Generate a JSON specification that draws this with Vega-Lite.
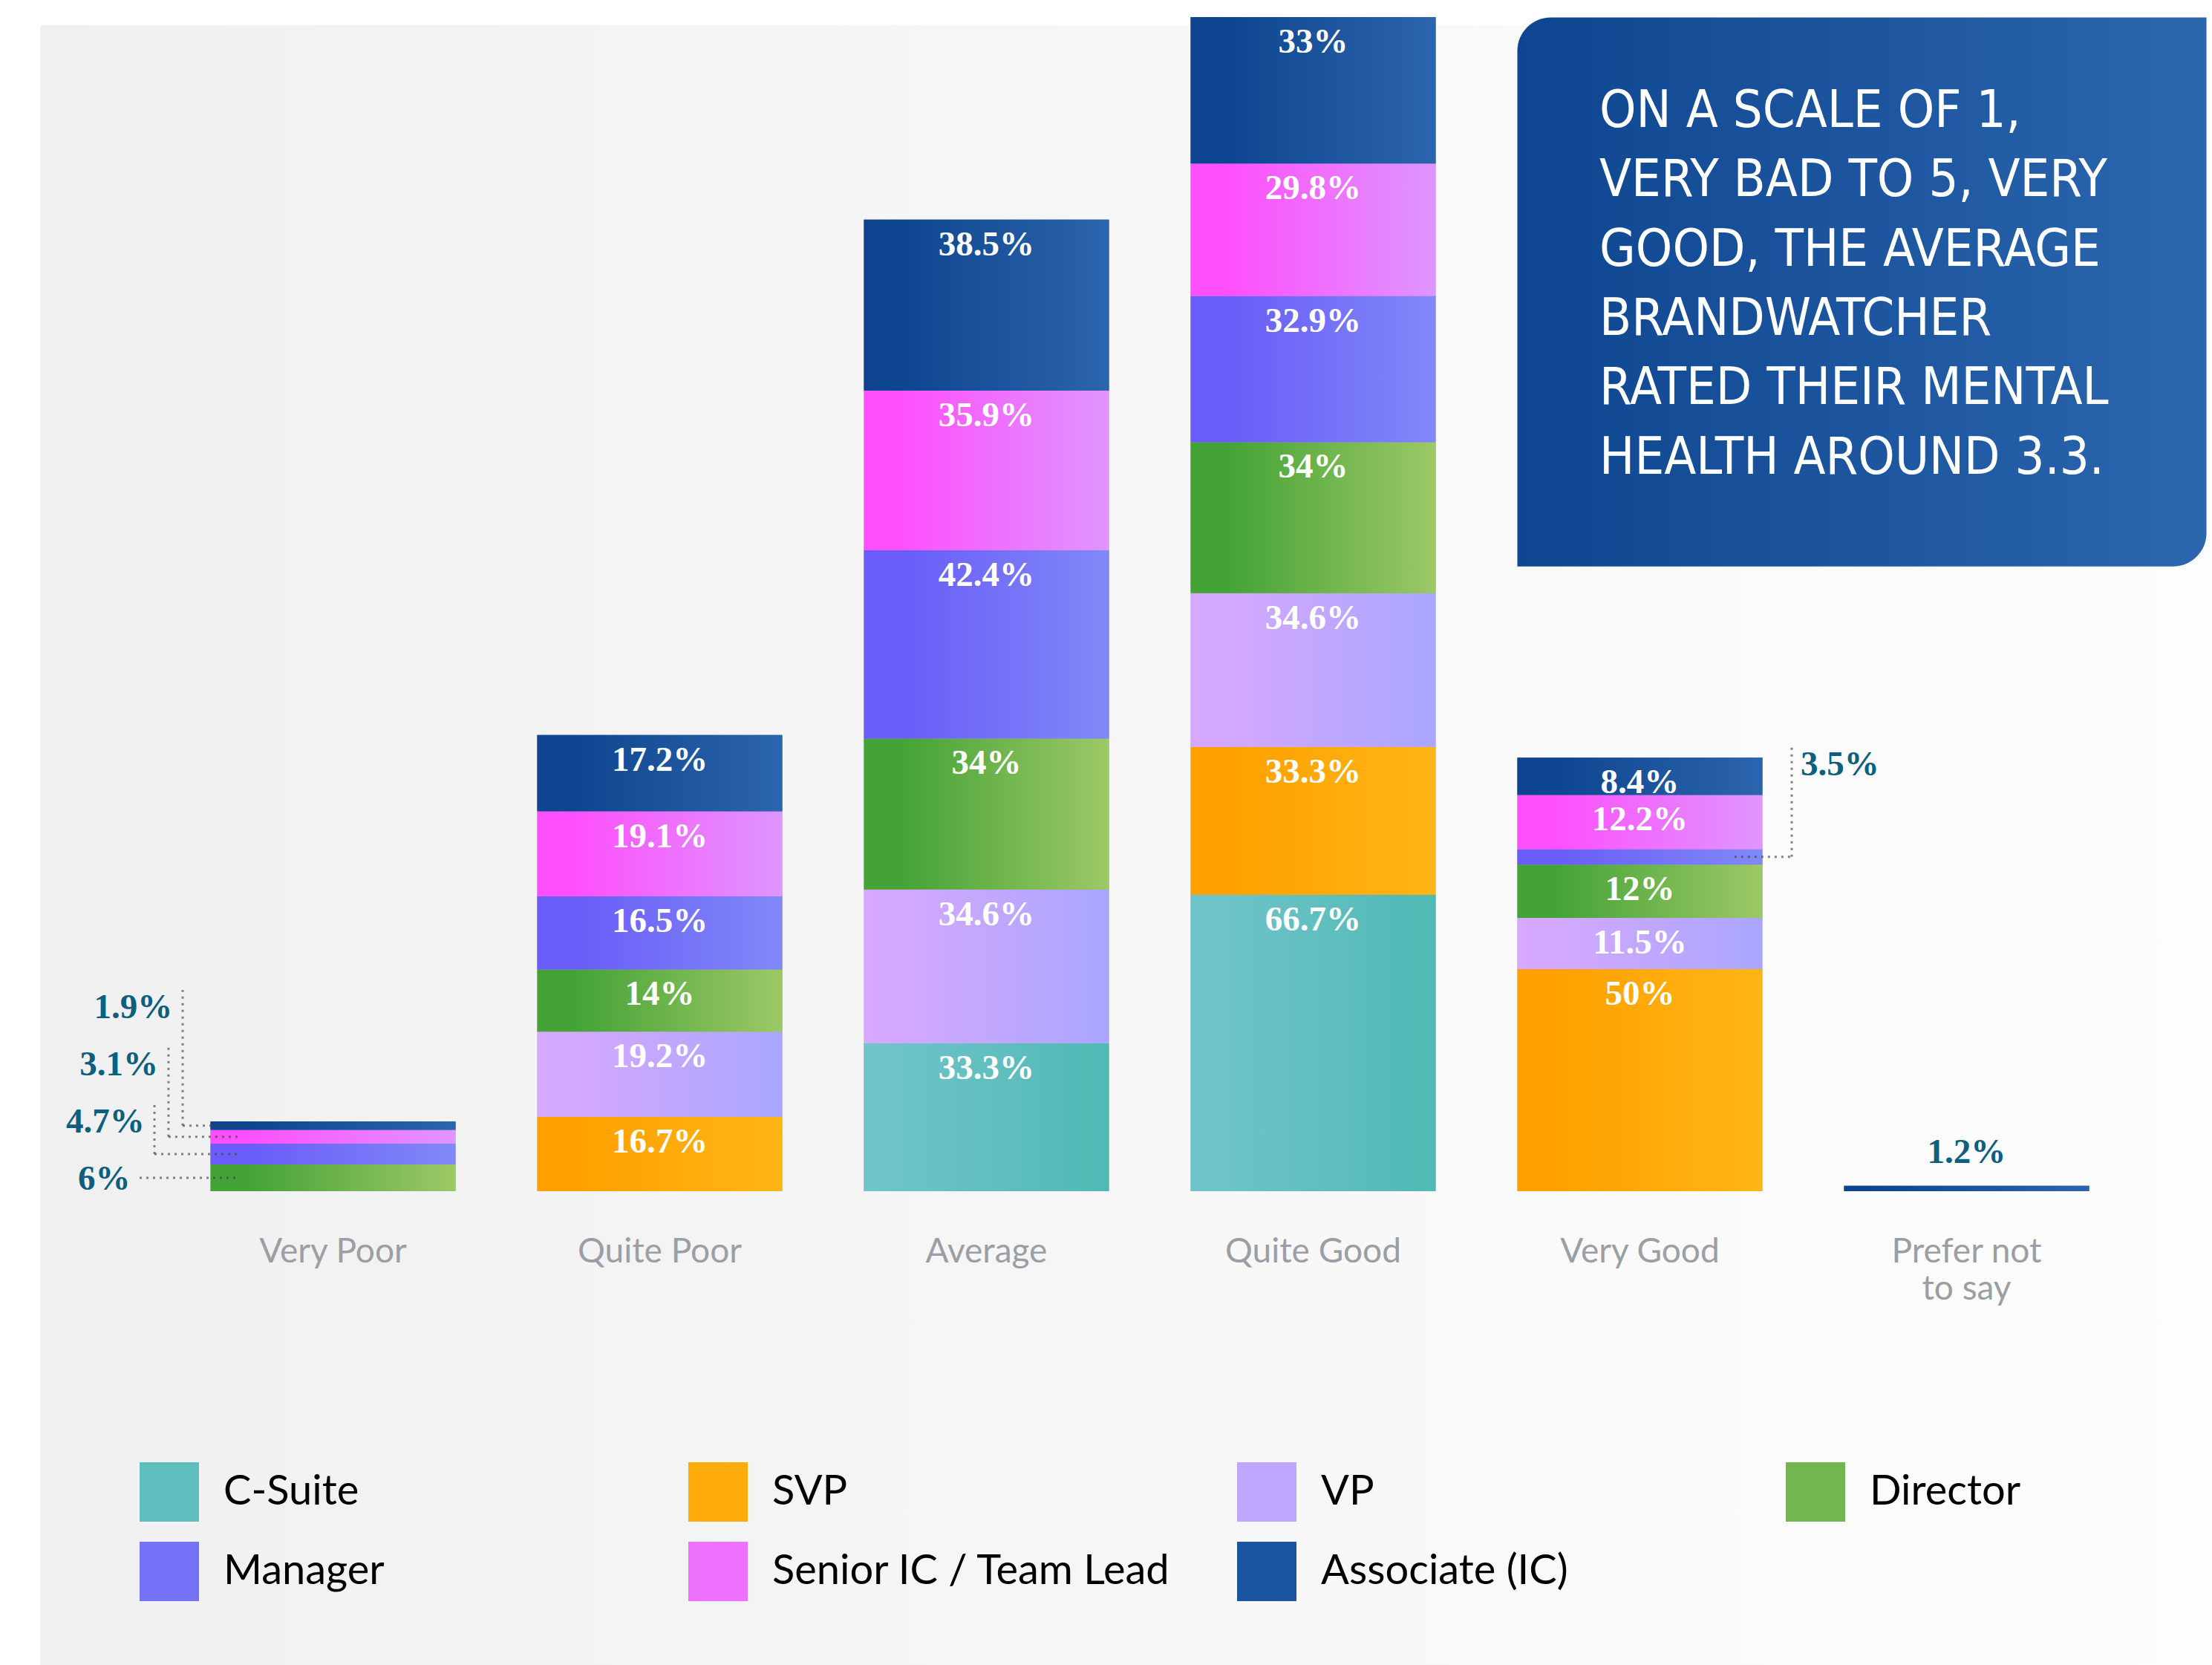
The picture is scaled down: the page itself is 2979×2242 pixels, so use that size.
{
  "$schema": "https://vega.github.io/schema/vega-lite/v6.json",
  "width": 2925,
  "height": 2208,
  "autosize": {"type": "none"},
  "padding": {"left": 54, "top": 34, "right": 0, "bottom": 0},
  "background": "#ffffff",
  "config": {
    "view": {"fill": {"gradient": "linear", "stops": [{"offset": 0, "color": "#f0f0f0"}, {"offset": 1, "color": "#fdfdfd"}]}, "stroke": null}
  },
  "data": {"values": [
    {"rating": "Very Poor", "role": "Director", "share": 0.06},
    {"rating": "Very Poor", "role": "Manager", "share": 0.047},
    {"rating": "Very Poor", "role": "Senior IC / Team Lead", "share": 0.031},
    {"rating": "Very Poor", "role": "Associate (IC)", "share": 0.019},
    {"rating": "Quite Poor", "role": "SVP", "share": 0.167},
    {"rating": "Quite Poor", "role": "VP", "share": 0.192},
    {"rating": "Quite Poor", "role": "Director", "share": 0.14},
    {"rating": "Quite Poor", "role": "Manager", "share": 0.165},
    {"rating": "Quite Poor", "role": "Senior IC / Team Lead", "share": 0.191},
    {"rating": "Quite Poor", "role": "Associate (IC)", "share": 0.172},
    {"rating": "Average", "role": "C-Suite", "share": 0.333},
    {"rating": "Average", "role": "VP", "share": 0.346},
    {"rating": "Average", "role": "Director", "share": 0.34},
    {"rating": "Average", "role": "Manager", "share": 0.424},
    {"rating": "Average", "role": "Senior IC / Team Lead", "share": 0.359},
    {"rating": "Average", "role": "Associate (IC)", "share": 0.385},
    {"rating": "Quite Good", "role": "C-Suite", "share": 0.667},
    {"rating": "Quite Good", "role": "SVP", "share": 0.333},
    {"rating": "Quite Good", "role": "VP", "share": 0.346},
    {"rating": "Quite Good", "role": "Director", "share": 0.34},
    {"rating": "Quite Good", "role": "Manager", "share": 0.329},
    {"rating": "Quite Good", "role": "Senior IC / Team Lead", "share": 0.298},
    {"rating": "Quite Good", "role": "Associate (IC)", "share": 0.33},
    {"rating": "Very Good", "role": "SVP", "share": 0.5},
    {"rating": "Very Good", "role": "VP", "share": 0.115},
    {"rating": "Very Good", "role": "Director", "share": 0.12},
    {"rating": "Very Good", "role": "Manager", "share": 0.035},
    {"rating": "Very Good", "role": "Senior IC / Team Lead", "share": 0.122},
    {"rating": "Very Good", "role": "Associate (IC)", "share": 0.084},
    {"rating": "Prefer not to say", "role": "Associate (IC)", "share": 0.012}
  ]},
  "transform": [{"stack": "share", "groupby": ["rating"], "as": ["y0", "y1"]}],
  "layer": [
    {
      "mark": {"type": "bar", "strokeWidth": 0},
      "encoding": {
        "x": {
          "field": "rating", "type": "nominal",
          "scale": {"domain": ["Very Poor", "Quite Poor", "Average", "Quite Good", "Very Good", "Prefer not to say"], "paddingInner": 0.25, "paddingOuter": 0.4489, "align": 0.581},
          "axis": {"title": null, "domain": false, "ticks": false, "grid": false, "labelAngle": 0, "labelFont": "Lato", "labelFontSize": 46, "labelColor": "#9a9fa5", "labelPadding": 95, "labelBaseline": "alphabetic", "labelLineHeight": 50, "offset": -638, "labelLimit": 0, "labelExpr": "datum.label == 'Prefer not to say' ? ['Prefer not', 'to say'] : datum.label"}
        },
        "y": {"field": "y0", "type": "quantitative", "scale": {"domain": [-1.0665, 2.6245], "nice": false, "zero": false}, "axis": null},
        "y2": {"field": "y1"},
        "color": {
          "field": "role", "type": "nominal",
          "scale": {
            "domain": ["C-Suite", "SVP", "VP", "Director", "Manager", "Senior IC / Team Lead", "Associate (IC)"],
            "range": ["#5fbfbf", "#ffab0c", "#bfa7ff", "#71b64e", "#7572f8", "#ee72fd", "#1c559f"]
          },
          "legend": {"title": null, "orient": "none", "legendX": 134, "legendY": 1935, "direction": "horizontal", "columns": 4, "symbolType": "square", "symbolSize": 6400, "symbolStrokeWidth": 0, "symbolOpacity": 1, "labelFont": "Lato", "labelFontSize": 56, "labelColor": "#000000", "labelOffset": 33, "columnPadding": 88, "rowPadding": 27, "gridAlign": "all", "labelLimit": 0, "padding": 0}
        }
      }
    },
    {"transform": [{"filter": "datum.role === 'C-Suite'"}],
     "mark": {"type": "bar", "strokeWidth": 0, "fill": {"gradient": "linear", "stops": [{"offset": 0, "color": "#6fc4c9"}, {"offset": 0.15, "color": "#6dc3c8"}, {"offset": 1, "color": "#50b9b4"}]}},
     "encoding": {"x": {"field": "rating", "type": "nominal"}, "y": {"field": "y0", "type": "quantitative", "axis": null}, "y2": {"field": "y1"}}},
    {"transform": [{"filter": "datum.role === 'SVP'"}],
     "mark": {"type": "bar", "strokeWidth": 0, "fill": {"gradient": "linear", "stops": [{"offset": 0, "color": "#ffa000"}, {"offset": 0.15, "color": "#ffa000"}, {"offset": 1, "color": "#ffb517"}]}},
     "encoding": {"x": {"field": "rating", "type": "nominal"}, "y": {"field": "y0", "type": "quantitative", "axis": null}, "y2": {"field": "y1"}}},
    {"transform": [{"filter": "datum.role === 'VP'"}],
     "mark": {"type": "bar", "strokeWidth": 0, "fill": {"gradient": "linear", "stops": [{"offset": 0, "color": "#d6a8ff"}, {"offset": 0.15, "color": "#d4a8ff"}, {"offset": 1, "color": "#a9a6ff"}]}},
     "encoding": {"x": {"field": "rating", "type": "nominal"}, "y": {"field": "y0", "type": "quantitative", "axis": null}, "y2": {"field": "y1"}}},
    {"transform": [{"filter": "datum.role === 'Director'"}],
     "mark": {"type": "bar", "strokeWidth": 0, "fill": {"gradient": "linear", "stops": [{"offset": 0, "color": "#44a336"}, {"offset": 0.15, "color": "#44a336"}, {"offset": 1, "color": "#9dc866"}]}},
     "encoding": {"x": {"field": "rating", "type": "nominal"}, "y": {"field": "y0", "type": "quantitative", "axis": null}, "y2": {"field": "y1"}}},
    {"transform": [{"filter": "datum.role === 'Manager'"}],
     "mark": {"type": "bar", "strokeWidth": 0, "fill": {"gradient": "linear", "stops": [{"offset": 0, "color": "#695cf8"}, {"offset": 0.15, "color": "#695cf8"}, {"offset": 1, "color": "#8189f8"}]}},
     "encoding": {"x": {"field": "rating", "type": "nominal"}, "y": {"field": "y0", "type": "quantitative", "axis": null}, "y2": {"field": "y1"}}},
    {"transform": [{"filter": "datum.role === 'Senior IC / Team Lead'"}],
     "mark": {"type": "bar", "strokeWidth": 0, "fill": {"gradient": "linear", "stops": [{"offset": 0, "color": "#fd4ffc"}, {"offset": 0.15, "color": "#fd4ffc"}, {"offset": 1, "color": "#de96ff"}]}},
     "encoding": {"x": {"field": "rating", "type": "nominal"}, "y": {"field": "y0", "type": "quantitative", "axis": null}, "y2": {"field": "y1"}}},
    {"transform": [{"filter": "datum.role === 'Associate (IC)'"}],
     "mark": {"type": "bar", "strokeWidth": 0, "fill": {"gradient": "linear", "stops": [{"offset": 0, "color": "#0d438f"}, {"offset": 0.15, "color": "#0e4590"}, {"offset": 1, "color": "#2b65ad"}]}},
     "encoding": {"x": {"field": "rating", "type": "nominal"}, "y": {"field": "y0", "type": "quantitative", "axis": null}, "y2": {"field": "y1"}}},
    {
      "transform": [{"filter": "datum.share >= 0.08"}],
      "mark": {"type": "text", "font": "Liberation Serif", "fontWeight": "bold", "fontSize": 47, "color": "#ffffff", "baseline": "alphabetic", "align": "center", "dy": 48},
      "encoding": {
        "x": {"field": "rating", "type": "nominal"},
        "y": {"field": "y1", "type": "quantitative", "axis": null},
        "text": {"field": "share", "type": "quantitative", "format": ".1~%"}
      }
    },
    {
      "transform": [{"filter": "datum.rating === 'Prefer not to say'"}],
      "mark": {"type": "text", "font": "Liberation Serif", "fontWeight": "bold", "fontSize": 47, "color": "#0c5f7f", "baseline": "alphabetic", "align": "center", "dy": -31},
      "encoding": {
        "x": {"field": "rating", "type": "nominal"},
        "y": {"field": "y1", "type": "quantitative", "axis": null},
        "text": {"field": "share", "type": "quantitative", "format": ".1~%"}
      }
    },
    {
      "transform": [
        {"filter": "datum.rating === 'Very Poor' && datum.role === 'Associate (IC)'"},
        {"fold": ["y0", "y1"], "as": ["edge", "edgeValue"]},
        {"aggregate": [{"op": "mean", "field": "edgeValue", "as": "mid"}, {"op": "max", "field": "share", "as": "share"}], "groupby": ["rating", "role"]}
      ],
      "layer": [
        {"mark": {"type": "rule", "color": "#444444", "opacity": 0.65, "strokeWidth": 3, "strokeDash": [3, 6], "y2Offset": -182.8},
         "encoding": {"x": {"field": "rating", "type": "nominal", "bandPosition": -0.1136}, "y": {"field": "mid", "type": "quantitative", "axis": null}, "y2": {"field": "mid"}}},
        {"mark": {"type": "rule", "color": "#444444", "opacity": 0.65, "strokeWidth": 3, "strokeDash": [3, 6]},
         "encoding": {"x": {"field": "rating", "type": "nominal", "bandPosition": -0.1136}, "x2": {"field": "rating", "bandPosition": 0.1182}, "y": {"field": "mid", "type": "quantitative", "axis": null}}},
        {"mark": {"type": "text", "font": "Liberation Serif", "fontWeight": "bold", "fontSize": 47, "color": "#0c5f7f", "baseline": "alphabetic", "align": "right", "dy": -145.1},
         "encoding": {"x": {"field": "rating", "type": "nominal", "bandPosition": -0.1555}, "y": {"field": "mid", "type": "quantitative", "axis": null}, "text": {"field": "share", "type": "quantitative", "format": ".1~%"}}}
      ]
    },
    {
      "transform": [
        {"filter": "datum.rating === 'Very Poor' && datum.role === 'Senior IC / Team Lead'"},
        {"fold": ["y0", "y1"], "as": ["edge", "edgeValue"]},
        {"aggregate": [{"op": "mean", "field": "edgeValue", "as": "mid"}, {"op": "max", "field": "share", "as": "share"}], "groupby": ["rating", "role"]}
      ],
      "layer": [
        {"mark": {"type": "rule", "color": "#444444", "opacity": 0.65, "strokeWidth": 3, "strokeDash": [3, 6], "y2Offset": -120.7},
         "encoding": {"x": {"field": "rating", "type": "nominal", "bandPosition": -0.1715}, "y": {"field": "mid", "type": "quantitative", "axis": null}, "y2": {"field": "mid"}}},
        {"mark": {"type": "rule", "color": "#444444", "opacity": 0.65, "strokeWidth": 3, "strokeDash": [3, 6]},
         "encoding": {"x": {"field": "rating", "type": "nominal", "bandPosition": -0.1715}, "x2": {"field": "rating", "bandPosition": 0.1182}, "y": {"field": "mid", "type": "quantitative", "axis": null}}},
        {"mark": {"type": "text", "font": "Liberation Serif", "fontWeight": "bold", "fontSize": 47, "color": "#0c5f7f", "baseline": "alphabetic", "align": "right", "dy": -83},
         "encoding": {"x": {"field": "rating", "type": "nominal", "bandPosition": -0.2136}, "y": {"field": "mid", "type": "quantitative", "axis": null}, "text": {"field": "share", "type": "quantitative", "format": ".1~%"}}}
      ]
    },
    {
      "transform": [
        {"filter": "datum.rating === 'Very Poor' && datum.role === 'Manager'"},
        {"fold": ["y0", "y1"], "as": ["edge", "edgeValue"]},
        {"aggregate": [{"op": "mean", "field": "edgeValue", "as": "mid"}, {"op": "max", "field": "share", "as": "share"}], "groupby": ["rating", "role"]}
      ],
      "layer": [
        {"mark": {"type": "rule", "color": "#444444", "opacity": 0.65, "strokeWidth": 3, "strokeDash": [3, 6], "y2Offset": -66},
         "encoding": {"x": {"field": "rating", "type": "nominal", "bandPosition": -0.2288}, "y": {"field": "mid", "type": "quantitative", "axis": null}, "y2": {"field": "mid"}}},
        {"mark": {"type": "rule", "color": "#444444", "opacity": 0.65, "strokeWidth": 3, "strokeDash": [3, 6]},
         "encoding": {"x": {"field": "rating", "type": "nominal", "bandPosition": -0.2288}, "x2": {"field": "rating", "bandPosition": 0.1182}, "y": {"field": "mid", "type": "quantitative", "axis": null}}},
        {"mark": {"type": "text", "font": "Liberation Serif", "fontWeight": "bold", "fontSize": 47, "color": "#0c5f7f", "baseline": "alphabetic", "align": "right", "dy": -29},
         "encoding": {"x": {"field": "rating", "type": "nominal", "bandPosition": -0.269}, "y": {"field": "mid", "type": "quantitative", "axis": null}, "text": {"field": "share", "type": "quantitative", "format": ".1~%"}}}
      ]
    },
    {
      "transform": [
        {"filter": "datum.rating === 'Very Poor' && datum.role === 'Director'"},
        {"fold": ["y0", "y1"], "as": ["edge", "edgeValue"]},
        {"aggregate": [{"op": "mean", "field": "edgeValue", "as": "mid"}, {"op": "max", "field": "share", "as": "share"}], "groupby": ["rating", "role"]}
      ],
      "layer": [
        {"mark": {"type": "rule", "color": "#444444", "opacity": 0.65, "strokeWidth": 3, "strokeDash": [3, 6]},
         "encoding": {"x": {"field": "rating", "type": "nominal", "bandPosition": -0.2894}, "x2": {"field": "rating", "bandPosition": 0.1182}, "y": {"field": "mid", "type": "quantitative", "axis": null}}},
        {"mark": {"type": "text", "font": "Liberation Serif", "fontWeight": "bold", "fontSize": 47, "color": "#0c5f7f", "baseline": "alphabetic", "align": "right", "dy": 16.2},
         "encoding": {"x": {"field": "rating", "type": "nominal", "bandPosition": -0.327}, "y": {"field": "mid", "type": "quantitative", "axis": null}, "text": {"field": "share", "type": "quantitative", "format": ".1~%"}}}
      ]
    },
    {
      "transform": [
        {"filter": "datum.rating === 'Very Good' && datum.role === 'Manager'"},
        {"fold": ["y0", "y1"], "as": ["edge", "edgeValue"]},
        {"aggregate": [{"op": "mean", "field": "edgeValue", "as": "mid"}, {"op": "max", "field": "share", "as": "share"}], "groupby": ["rating", "role"]}
      ],
      "layer": [
        {"mark": {"type": "rule", "color": "#444444", "opacity": 0.65, "strokeWidth": 3, "strokeDash": [3, 6], "y2Offset": -149.9},
         "encoding": {"x": {"field": "rating", "type": "nominal", "bandPosition": 1.1197}, "y": {"field": "mid", "type": "quantitative", "axis": null}, "y2": {"field": "mid"}}},
        {"mark": {"type": "rule", "color": "#444444", "opacity": 0.65, "strokeWidth": 3, "strokeDash": [3, 6]},
         "encoding": {"x": {"field": "rating", "type": "nominal", "bandPosition": 0.886}, "x2": {"field": "rating", "bandPosition": 1.1197}, "y": {"field": "mid", "type": "quantitative", "axis": null}}},
        {"mark": {"type": "text", "font": "Liberation Serif", "fontWeight": "bold", "fontSize": 47, "color": "#0c5f7f", "baseline": "alphabetic", "align": "left", "dy": -109.5},
         "encoding": {"x": {"field": "rating", "type": "nominal", "bandPosition": 1.156}, "y": {"field": "mid", "type": "quantitative", "axis": null}, "text": {"field": "share", "type": "quantitative", "format": ".1~%"}}}
      ]
    },
    {
      "data": {"values": [{"note": "summary"}]},
      "mark": {"type": "rect", "cornerRadiusTopLeft": 45, "cornerRadiusBottomRight": 45, "fill": {"gradient": "linear", "stops": [{"offset": 0, "color": "#0e4590"}, {"offset": 1, "color": "#2b66ae"}]}},
      "encoding": {
        "x": {"datum": "Very Good", "type": "nominal", "bandPosition": 0},
        "x2": {"datum": "Prefer not to say", "bandPosition": 1.479},
        "y": {"datum": 2.642, "type": "quantitative"},
        "y2": {"datum": 1.4063}
      }
    },
    {
      "data": {"values": [{"note": "summary"}]},
      "mark": {"type": "text", "align": "left", "baseline": "alphabetic", "font": "DejaVu Sans Condensed, Liberation Sans Narrow, sans-serif", "fontSize": 70, "lineHeight": 93.4, "color": "#ffffff"},
      "encoding": {
        "x": {"datum": "Very Good", "type": "nominal", "bandPosition": 0.335},
        "y": {"datum": 2.3957, "type": "quantitative"},
        "text": {"value": ["ON A SCALE OF 1,", "VERY BAD TO 5, VERY", "GOOD, THE AVERAGE", "BRANDWATCHER", "RATED THEIR MENTAL", "HEALTH AROUND 3.3."]}
      }
    }
  ]
}
